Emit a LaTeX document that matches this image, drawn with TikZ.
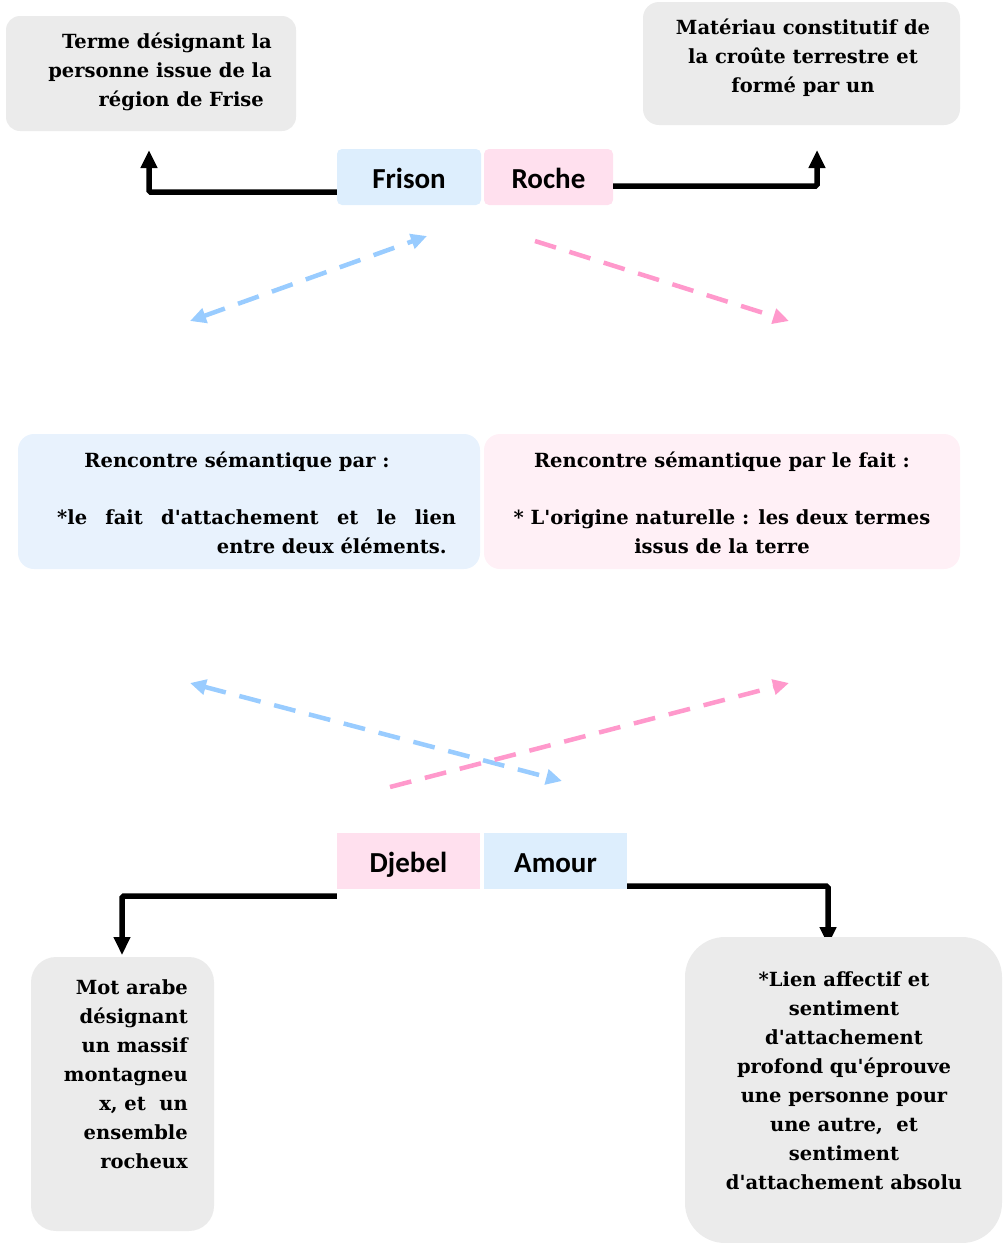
\documentclass[tikz,border=0pt]{standalone}
\usepackage{fontspec}
\setmainfont{DejaVu Serif}[Ligatures=TeXOff]
\newfontfamily\calib{Carlito}
\usetikzlibrary{arrows.meta}
\definecolor{boxgray}{HTML}{EBEBEB}
\definecolor{wblue}{HTML}{DDEEFD}
\definecolor{wpink}{HTML}{FFE0EE}
\definecolor{lblue}{HTML}{E8F2FD}
\definecolor{lpink}{HTML}{FFF0F6}
\definecolor{dblue}{HTML}{99CCFF}
\definecolor{dpink}{HTML}{FF99CC}
\tikzset{
  gbox/.style={draw=none, fill=boxgray, inner sep=0pt},
  wordbox/.style={draw=none, inner sep=0pt, text height=24pt, text depth=1.4pt, font=\calib\bfseries\fontsize{29}{32}\selectfont},
  txt/.style={inner sep=0pt, font=\bfseries\fontsize{19.5}{29}\selectfont},
  blk/.style={line width=5.5pt, -{Triangle[width=16pt,length=18pt]}, rounded corners=1.5pt},
  dsh/.style={line width=4.5pt, dash pattern=on 22pt off 14pt}
}
\begin{document}
\begin{tikzpicture}[x=1pt,y=-1pt]
\useasboundingbox (0,0) rectangle (1002,1243);
% top boxes
\node[gbox, rounded corners=14pt, minimum width=290pt, minimum height=115pt] (tl) at (151,73.5) {};
\node[txt, align=right, anchor=east] (tltxt) at (272,72) {Terme désignant la\\personne issue de la\\région de Frise\hspace*{8pt}};
\node[gbox, rounded corners=16pt, minimum width=317pt, minimum height=123pt] (tr) at (801.5,63.5) {};
\node[txt, align=center] (trtxt) at (803,58) {Matériau constitutif de\\la croûte terrestre et\\formé par un};
% words
\node[wordbox, fill=wblue, rounded corners=5pt, minimum width=144pt, minimum height=56pt] (frison) at (409,177) {Frison};
\node[wordbox, fill=wpink, rounded corners=5pt, minimum width=129pt, minimum height=56pt] (roche) at (548.5,177) {Roche};
\coordinate (c1) at (149,150);
\coordinate (c2) at (817,150);
\draw[blk] ([yshift=-15pt]frison.west) -| (c1);
\draw[blk] ([yshift=-9pt]roche.east) -| (c2);
% upper dashed
\coordinate (b1) at (427,236);
\coordinate (b2) at (190,321);
\coordinate (p1) at (535,241);
\coordinate (p2) at (789,321);
\draw[dsh, draw=dblue, {Triangle[width=15pt,length=16pt]}-{Triangle[width=15pt,length=16pt]}] (b2) -- (b1);
\draw[dsh, draw=dpink, -{Triangle[width=15pt,length=16pt]}] (p1) -- (p2);
% middle boxes
\node[draw=none, fill=lblue, rounded corners=16pt, minimum width=462pt, minimum height=135pt] (mb) at (249,501.5) {};
\node[draw=none, fill=lpink, rounded corners=16pt, minimum width=476pt, minimum height=135pt] (mp) at (722,501.5) {};
\node[txt] (mbt1) at (237,462) {Rencontre sémantique par :};
\node[txt, anchor=west] (mbt2) at (57,517) {\hbox to 399pt{*le\hfill fait\hfill d'attachement\hfill et\hfill le\hfill lien}};
\node[txt, anchor=east] (mbt3) at (447,546) {entre deux éléments.};
\node[txt] (mpt1) at (722,462) {Rencontre sémantique par le fait :};
\node[txt, align=center] (mpt2) at (722,532) {* L'origine naturelle : les deux termes\\issus de la terre};
% lower dashed
\coordinate (b3) at (190,683);
\coordinate (b4) at (562,781);
\coordinate (p3) at (390,787);
\coordinate (p4) at (789,683);
\draw[dsh, draw=dblue, {Triangle[width=15pt,length=16pt]}-{Triangle[width=15pt,length=16pt]}] (b3) -- (b4);
\draw[dsh, draw=dpink, -{Triangle[width=15pt,length=16pt]}] (p3) -- (p4);
% lower words
\node[wordbox, fill=wpink, minimum width=143pt, minimum height=56pt] (djebel) at (408.5,861) {Djebel};
\node[wordbox, fill=wblue, minimum width=143pt, minimum height=56pt] (amour) at (555.5,861) {Amour};
\coordinate (c3) at (122,955);
\coordinate (c4) at (828,945);
\draw[blk] ([yshift=-7pt]djebel.south west) -| (c3);
\draw[blk] ([yshift=3pt]amour.south east) -| (c4);
% bottom boxes
\node[gbox, rounded corners=25pt, minimum width=183pt, minimum height=274pt] (bl) at (122.5,1094) {};
\node[txt, align=right, anchor=east] (bltxt) at (188,1074) {Mot arabe\\désignant\\un massif\\montagneu\\x, et\ \ un\\ensemble\\rocheux};
\node[gbox, rounded corners=40pt, minimum width=317pt, minimum height=306pt] (br) at (843.5,1090) {};
\node[txt, align=center] (brtxt) at (844,1081) {*Lien affectif et\\sentiment\\d'attachement\\profond qu'éprouve\\une personne pour\\une autre,\ \ et\\sentiment\\d'attachement absolu};
\end{tikzpicture}
\end{document}
